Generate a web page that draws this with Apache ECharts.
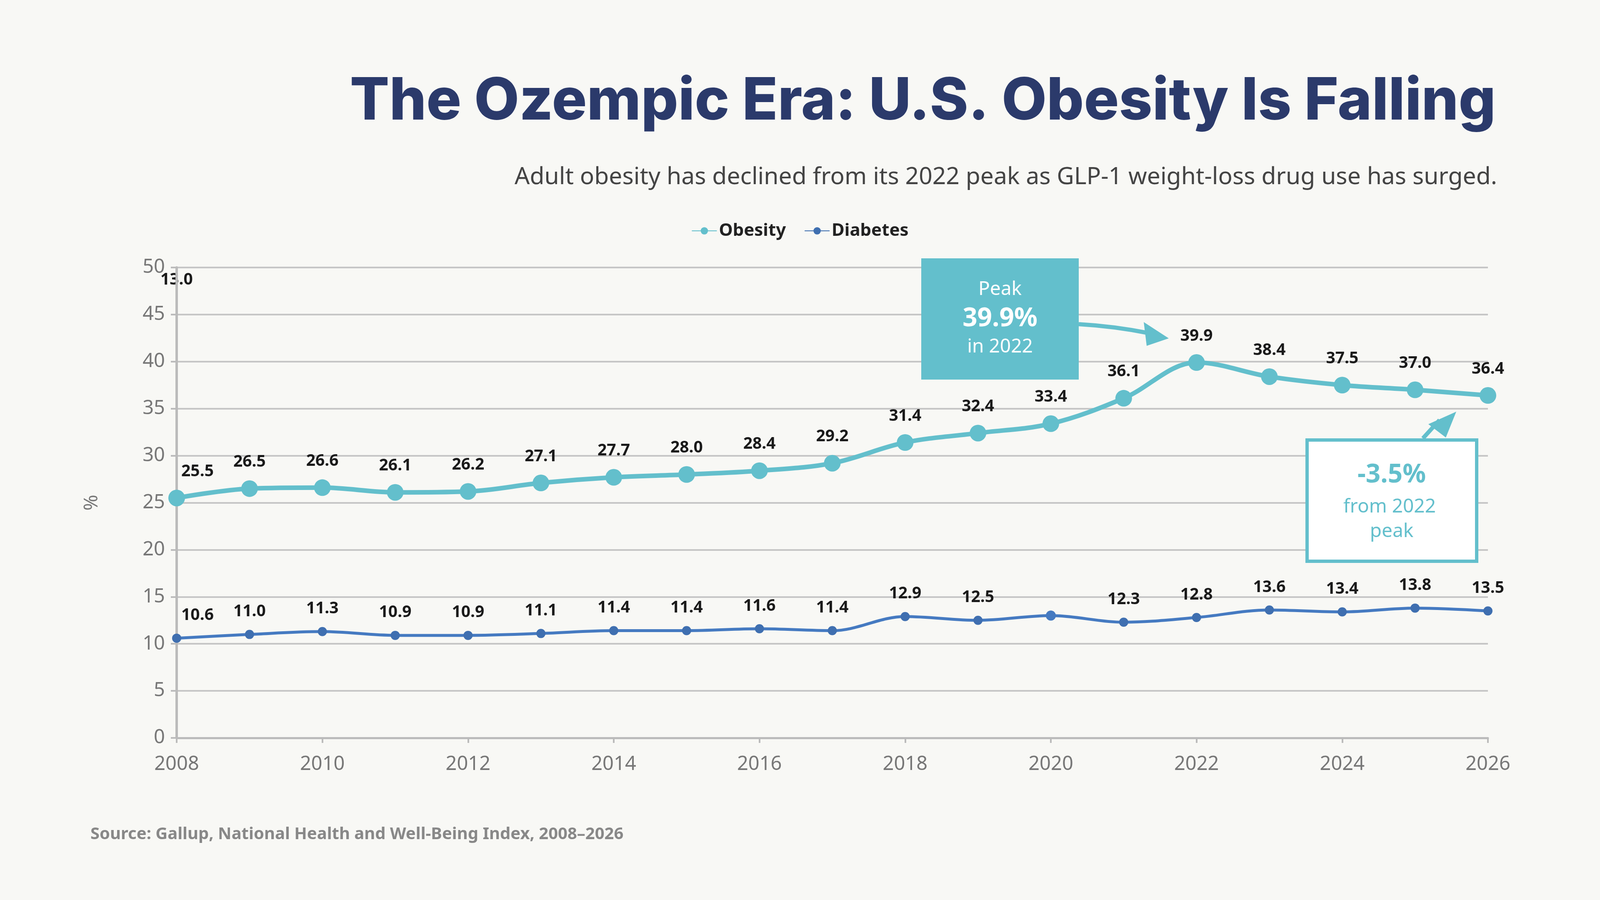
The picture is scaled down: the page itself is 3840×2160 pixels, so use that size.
<!DOCTYPE html>
<html><head><meta charset="utf-8">
<script src="https://cdn.jsdelivr.net/npm/echarts@6/dist/echarts.min.js"></script>
<style>html,body{margin:0;padding:0;background:#f8f8f5}#c{width:3840px;height:2160px}</style>
</head><body><div id="c"></div>
<script>
const years = [2008,2009,2010,2011,2012,2013,2014,2015,2016,2017,2018,2019,2020,2021,2022,2023,2024,2025,2026];
const obesity = [25.5,26.5,26.6,26.1,26.2,27.1,27.7,28.0,28.4,29.2,31.4,32.4,33.4,36.1,39.9,38.4,37.5,37.0,36.4];
const diabetes = [10.6,11.0,11.3,10.9,10.9,11.1,11.4,11.4,11.6,11.4,12.9,12.5,13.0,12.3,12.8,13.6,13.4,13.8,13.5];
const yTicks = [0,5,10,15,20,25,30,35,40,45,50];

const chart = echarts.init(document.getElementById('c'));
const F = 'Noto Sans';
const lblStyle = {show:true, position:'top', distance:24, fontFamily:F, fontWeight:'bold', fontSize:39, color:'#1a1a1a', formatter:p=>p.value[1].toFixed(1)};
chart.setOption({
  backgroundColor:'#f8f8f5',
  title:[{text:'The Ozempic Era: U.S. Obesity Is Falling', right:245, top:170, textStyle:{fontFamily:'Inter', fontWeight:800, fontSize:140, color:'#2b3a6b'}},
         {text:'Adult obesity has declined from its 2022 peak as GLP-1 weight-loss drug use has surged.', right:242, top:392, textStyle:{fontFamily:F, fontWeight:'normal', fontSize:57, color:'#444'}},
         {text:'Source: Gallup, National Health and Well-Being Index, 2008–2026', left:212, top:1978, textStyle:{fontFamily:F, fontWeight:'bold', fontSize:40, color:'#888'}}],
  legend:{top:528, left:'center', itemGap:44, itemWidth:60, itemHeight:22, textStyle:{fontFamily:F, fontWeight:'bold', fontSize:42, color:'#222'}, data:['Obesity','Diabetes']},
  grid:{left:424, right:269, top:642, bottom:389},
  xAxis:{type:'value', min:2008, max:2026, interval:2,
    axisLine:{show:true, lineStyle:{color:'#bbb', width:5}}, axisTick:{show:true, length:12, lineStyle:{color:'#bbb', width:4}},
    splitLine:{show:false}, axisLabel:{fontFamily:F, fontSize:47, color:'#777', margin:40, formatter:v=>String(v)}},
  yAxis:{type:'value', min:0, max:50, interval:5, name:'%', nameLocation:'middle', nameGap:180, nameRotate:90, nameTextStyle:{fontFamily:F, fontSize:46, color:'#777'},
    axisLine:{show:true, lineStyle:{color:'#bbb', width:6}}, axisTick:{show:true, length:14, lineStyle:{color:'#bbb', width:4}},
    splitLine:{lineStyle:{color:'#c6c6c6', width:4}}, axisLabel:{fontFamily:F, fontSize:47, color:'#777', margin:28, formatter:v=>yTicks.includes(v)?String(v):''}},
  series:[
    {name:'Obesity', type:'line', smooth:0.35, data:years.map((y,i)=>[y,obesity[i]]), symbol:'circle', symbolSize:40,
      itemStyle:{color:'#63bfcc'}, lineStyle:{width:11, color:'#63bfcc'}, label:lblStyle,
      labelLayout:p=>p.dataIndex===0?{dx:50}:{} , z:3},
    {name:'Diabetes', type:'line', smooth:0.35, data:years.map((y,i)=>({value:[y,diabetes[i]], label:{show:y!==2020}})), symbol:'circle', symbolSize:22,
      itemStyle:{color:'#3f6fb0'}, lineStyle:{width:7, color:'#3f6fb0'}, label:lblStyle,
      labelLayout:p=>p.dataIndex===0?{dx:50}:{}, z:2}
  ],
  graphic:[
    {type:'text', left:385, top:652, style:{text:'13.0', fontFamily:F, fontWeight:'bold', fontSize:39, fill:'#1a1a1a'}},
    {type:'rect', shape:{x:2211,y:620,width:378,height:291}, style:{fill:'#63bfcc'}, z:10},
    {type:'text', x:2400, y:695, style:{text:'Peak', align:'center', verticalAlign:'middle', fontFamily:F, fontSize:46, fill:'#fff'}, z:11},
    {type:'text', x:2400, y:765, style:{text:'39.9%', align:'center', verticalAlign:'middle', fontFamily:F, fontWeight:'bold', fontSize:62, fill:'#fff'}, z:11},
    {type:'text', x:2400, y:833, style:{text:'in 2022', align:'center', verticalAlign:'middle', fontFamily:F, fontSize:46, fill:'#fff'}, z:11},
    {type:'bezierCurve', shape:{x1:2589,y1:778,cpx1:2660,cpy1:782,x2:2760,y2:800,cpx2:2710,cpy2:790}, style:{stroke:'#63bfcc', lineWidth:10, fill:null}, z:10},
    {type:'polygon', shape:{points:[[2805,812],[2745,773],[2752,830]]}, style:{fill:'#63bfcc'}, z:10},
    {type:'rect', shape:{x:3137,y:1056,width:407,height:291}, style:{fill:'#fff', stroke:'#63bfcc', lineWidth:8}, z:10},
    {type:'text', x:3340, y:1140, style:{text:'-3.5%', align:'center', verticalAlign:'middle', fontFamily:F, fontWeight:'bold', fontSize:62, fill:'#63bfcc'}, z:11},
    {type:'text', x:3335, y:1217, style:{text:'from 2022', align:'center', verticalAlign:'middle', fontFamily:F, fontSize:46, fill:'#63bfcc'}, z:11},
    {type:'text', x:3340, y:1276, style:{text:'peak', align:'center', verticalAlign:'middle', fontFamily:F, fontSize:46, fill:'#63bfcc'}, z:11},
    {type:'line', shape:{x1:3415,y1:1052,x2:3455,y2:1008}, style:{stroke:'#63bfcc', lineWidth:10}, z:10},
    {type:'polygon', shape:{points:[[3495,988],[3428,1018],[3470,1050]]}, style:{fill:'#63bfcc'}, z:10}
  ]
});
</script></body></html>
